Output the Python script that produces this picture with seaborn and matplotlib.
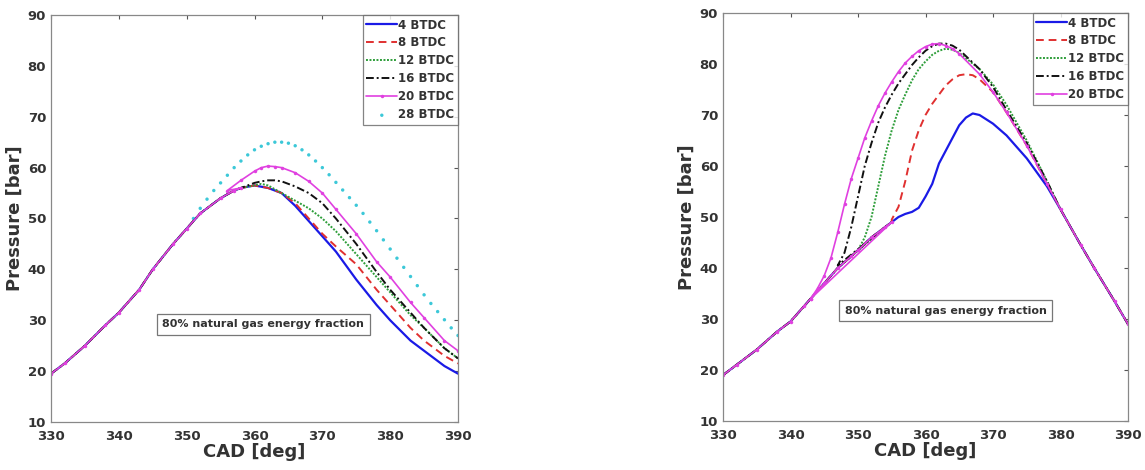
#!/bin/env python

import matplotlib

import pandas as pd
import numpy as np
import seaborn as sns
import matplotlib.pyplot as plt

matplotlib.use("Agg")

# ---- left panel data (CAD [deg] -> Pressure [bar]) ----
common_l_x = [330, 332, 335, 338, 340, 343, 345, 348, 350, 352, 355, 357, 358]
common_l_y = [19.5, 21.5, 25, 29, 31.5, 36, 40, 45, 48, 51, 54, 55.5, 56]

l4_x = [360, 362, 364, 366, 368, 370, 372, 375, 378, 380, 383, 385, 388, 390]
l4_y = [56.5, 56, 55, 52.5, 49.5, 46.5, 43.5, 38, 33, 30, 26, 24, 21, 19.5]
l8_x = [360, 362, 364, 366, 368, 370, 372, 375, 378, 380, 383, 385, 388, 390]
l8_y = [56.5, 56, 55, 53, 50, 47, 44.5, 41, 36, 33, 28.5, 26, 23, 21.5]
l12_x = [360, 361, 362, 364, 366, 368, 370, 372, 375, 378, 380, 383, 385, 388, 390]
l12_y = [56.5, 56.8, 56.5, 55, 53.5, 52, 50, 47.5, 43, 38.5, 35.5, 31, 28.5, 24.5, 22.5]
l16_x = [360, 361, 362, 363, 364, 366, 368, 370, 372, 375, 378, 380, 383, 385, 388, 390]
l16_y = [57, 57.3, 57.5, 57.5, 57.3, 56.3, 55, 53, 50, 45, 39.5, 36, 31.5, 28.5, 24.5, 22.5]
l20_x = [356, 358, 360, 361, 362, 363, 364, 366, 368, 370, 372, 375, 378, 380, 383, 385, 388, 390]
l20_y = [55.5, 57.5, 59.3, 60, 60.3, 60.2, 60, 59, 57.3, 55, 51.8, 47, 41.5, 38.5, 33.5, 30.5, 26, 24]
l28_x = [351, 352, 353, 354, 355, 356, 357, 358, 359, 360, 361, 362, 363, 364, 365, 366, 367, 368,
         369, 370, 371, 372, 373, 374, 375, 376, 377, 378, 379, 380, 381, 382, 383, 384, 385, 386,
         387, 388, 389, 390]
l28_y = [50, 52, 53.8, 55.5, 57, 58.5, 60, 61.3, 62.5, 63.5, 64.2, 64.7, 65, 65, 64.8, 64.3, 63.5, 62.5,
         61.3, 60, 58.6, 57.1, 55.6, 54.1, 52.6, 51, 49.3, 47.6, 45.8, 44, 42.2, 40.4, 38.6, 36.8, 35, 33.3,
         31.7, 30.1, 28.5, 27]

# ---- right panel data ----
common_r_x = [330, 332, 335, 338, 340, 342, 343, 345, 347, 349, 350, 352, 354, 355]
common_r_y = [19, 21, 24, 27.5, 29.5, 32.5, 34, 37, 40, 42.3, 43.5, 46, 48, 49]

r4_x = [356, 357, 358, 359, 360, 361, 362, 363, 364, 365, 366, 367, 368, 370, 372, 375, 378, 380, 383, 385, 388, 390]
r4_y = [50, 50.6, 51, 51.8, 54, 56.5, 60.5, 63, 65.5, 68, 69.5, 70.3, 70, 68.3, 66, 61.5, 56, 51.5, 44.5, 40, 33.5, 29]
r8_x = [355, 356, 357, 358, 359, 360, 361, 362, 363, 364, 365, 366, 367, 368, 370, 372, 375, 378, 380, 383, 385, 388, 390]
r8_y = [49.5, 52, 57, 63, 67, 70, 72.2, 74, 75.8, 77, 77.8, 78, 77.8, 77, 74.5, 70.5, 64, 56.5, 51.5, 44.5, 40, 33.5, 29]
r12_x = [350, 351, 352, 353, 354, 355, 356, 357, 358, 359, 360, 361, 362, 363, 364, 365, 368, 370, 372, 375, 378,
         380, 383, 385, 388, 390]
r12_y = [43.5, 46, 50, 56, 62, 67, 71, 74, 76.8, 79, 80.5, 81.8, 82.6, 83, 82.8, 82.2, 79, 76, 72, 65, 57,
         51.5, 44.5, 40, 33.5, 29]
r16_x = [347, 348, 349, 350, 351, 352, 353, 354, 355, 356, 357, 358, 359, 360, 361, 362, 363, 364, 365, 368, 370,
         372, 375, 378, 380, 383, 385, 388, 390]
r16_y = [40.5, 43, 48, 54, 60, 64.5, 68.5, 71.5, 74, 76.2, 78, 79.8, 81.3, 82.6, 83.5, 84, 84, 83.6, 82.8, 79, 75.5,
         71, 64.5, 57, 51.5, 44.5, 40, 33.5, 29]
r20_x = [343, 344, 345, 346, 347, 348, 349, 350, 351, 352, 353, 354, 355, 356, 357, 358, 359, 360, 361, 362, 363,
         364, 365, 368, 370, 372, 375, 378, 380, 383, 385, 388, 390]
r20_y = [34, 36, 38.5, 42, 47, 52.5, 57.5, 61.5, 65.5, 68.8, 71.8, 74.3, 76.5, 78.5, 80.2, 81.5, 82.6, 83.4, 83.9,
         84, 83.6, 83, 82, 78, 74.5, 70.5, 64, 56.5, 51.5, 44.5, 40, 33.5, 29]

STYLES = {
    "4 BTDC": dict(color="#1a1ae6", ls="-", lw=1.6, marker=None),
    "8 BTDC": dict(color="#e03030", ls=(0, (4, 2.5)), lw=1.4, marker=None),
    "12 BTDC": dict(color="#2e9e3a", ls=(0, (1, 0.8)), lw=1.4, marker=None),
    "16 BTDC": dict(color="#111111", ls=(0, (4, 1.5, 1, 1.5)), lw=1.4, marker=None),
    "20 BTDC": dict(color="#e040e0", ls="-", lw=1.2, marker="o"),
    "28 BTDC": dict(color="#3cc8d8", ls="none", lw=1.2, marker="o"),
}


def build(cx, cy, series):
    rows = []
    for name, (xs, ys) in series.items():
        sx, sy = xs, ys
        if name != "28 BTDC":
            sx = cx + xs
            sy = cy + ys
        rows.append(pd.DataFrame({"CAD": sx, "P": sy, "case": name}))
    return pd.concat(rows, ignore_index=True)


left_df = build(common_l_x, common_l_y, {
    "4 BTDC": (l4_x, l4_y), "8 BTDC": (l8_x, l8_y), "12 BTDC": (l12_x, l12_y),
    "16 BTDC": (l16_x, l16_y), "20 BTDC": (l20_x, l20_y), "28 BTDC": (l28_x, l28_y),
})
right_df = build(common_r_x, common_r_y, {
    "4 BTDC": (r4_x, r4_y), "8 BTDC": (r8_x, r8_y), "12 BTDC": (r12_x, r12_y),
    "16 BTDC": (r16_x, r16_y), "20 BTDC": (r20_x, r20_y),
})

sns.set_style("white")
plt.rcParams["font.family"] = ["DejaVu Sans"]

fig = plt.figure(figsize=(11.45, 4.7), dpi=100)
ax_l = fig.add_axes([51 / 1145, 48 / 470, 407 / 1145, 407 / 470])
ax_r = fig.add_axes([723 / 1145, 49 / 470, 405 / 1145, 408 / 470])


def draw(ax, df, box_xy):
    for name in df["case"].unique():
        st = STYLES[name]
        sub = df[df["case"] == name]
        if name == "28 BTDC":
            sns.scatterplot(data=sub, x="CAD", y="P", ax=ax, color=st["color"], s=6,
                            edgecolor="none", label=name)
            continue
        sns.lineplot(data=sub, x="CAD", y="P", ax=ax, color=st["color"], lw=st["lw"],
                     linestyle=st["ls"], marker=st["marker"], markersize=2.5,
                     markeredgewidth=0, sort=False, estimator=None, label=name)
    ax.set_xlim(330, 390)
    ax.set_ylim(10, 90)
    ax.set_xticks(np.arange(330, 391, 10))
    ax.set_yticks(np.arange(10, 91, 10))
    ax.tick_params(direction="in", length=3, labelsize=9.5, colors="#555555",
                   labelcolor="#333333", top=True, right=True)
    ax.tick_params(axis="x", pad=6)
    for lab in ax.get_xticklabels() + ax.get_yticklabels():
        lab.set_fontweight("bold")
    for sp in ax.spines.values():
        sp.set_color("#888888")
        sp.set_linewidth(0.9)
    ax.set_xlabel("CAD [deg]", fontsize=13, fontweight="bold", color="#333333", labelpad=0)
    ax.set_ylabel("Pressure [bar]", fontsize=13, fontweight="bold", color="#333333", labelpad=3)
    leg = ax.legend(loc="upper right", frameon=True, fancybox=False,
                    borderpad=0.3, labelspacing=0.42, handlelength=2.6, handletextpad=0.1,
                    borderaxespad=0.0, prop={"weight": "bold", "size": 8.5})
    leg.get_frame().set_edgecolor("#666666")
    leg.get_frame().set_linewidth(0.9)
    for t in leg.get_texts():
        t.set_color("#333333")
    ax.text(box_xy[0], box_xy[1], "80% natural gas energy fraction", fontsize=8,
            fontweight="bold", color="#333333", ha="center", va="center",
            bbox=dict(boxstyle="square,pad=0.5", fc="white", ec="#777777", lw=0.9))


draw(ax_l, left_df, (361.3, 29.2))
draw(ax_r, right_df, (363.0, 31.6))

fig.savefig("out.png", dpi=100)
